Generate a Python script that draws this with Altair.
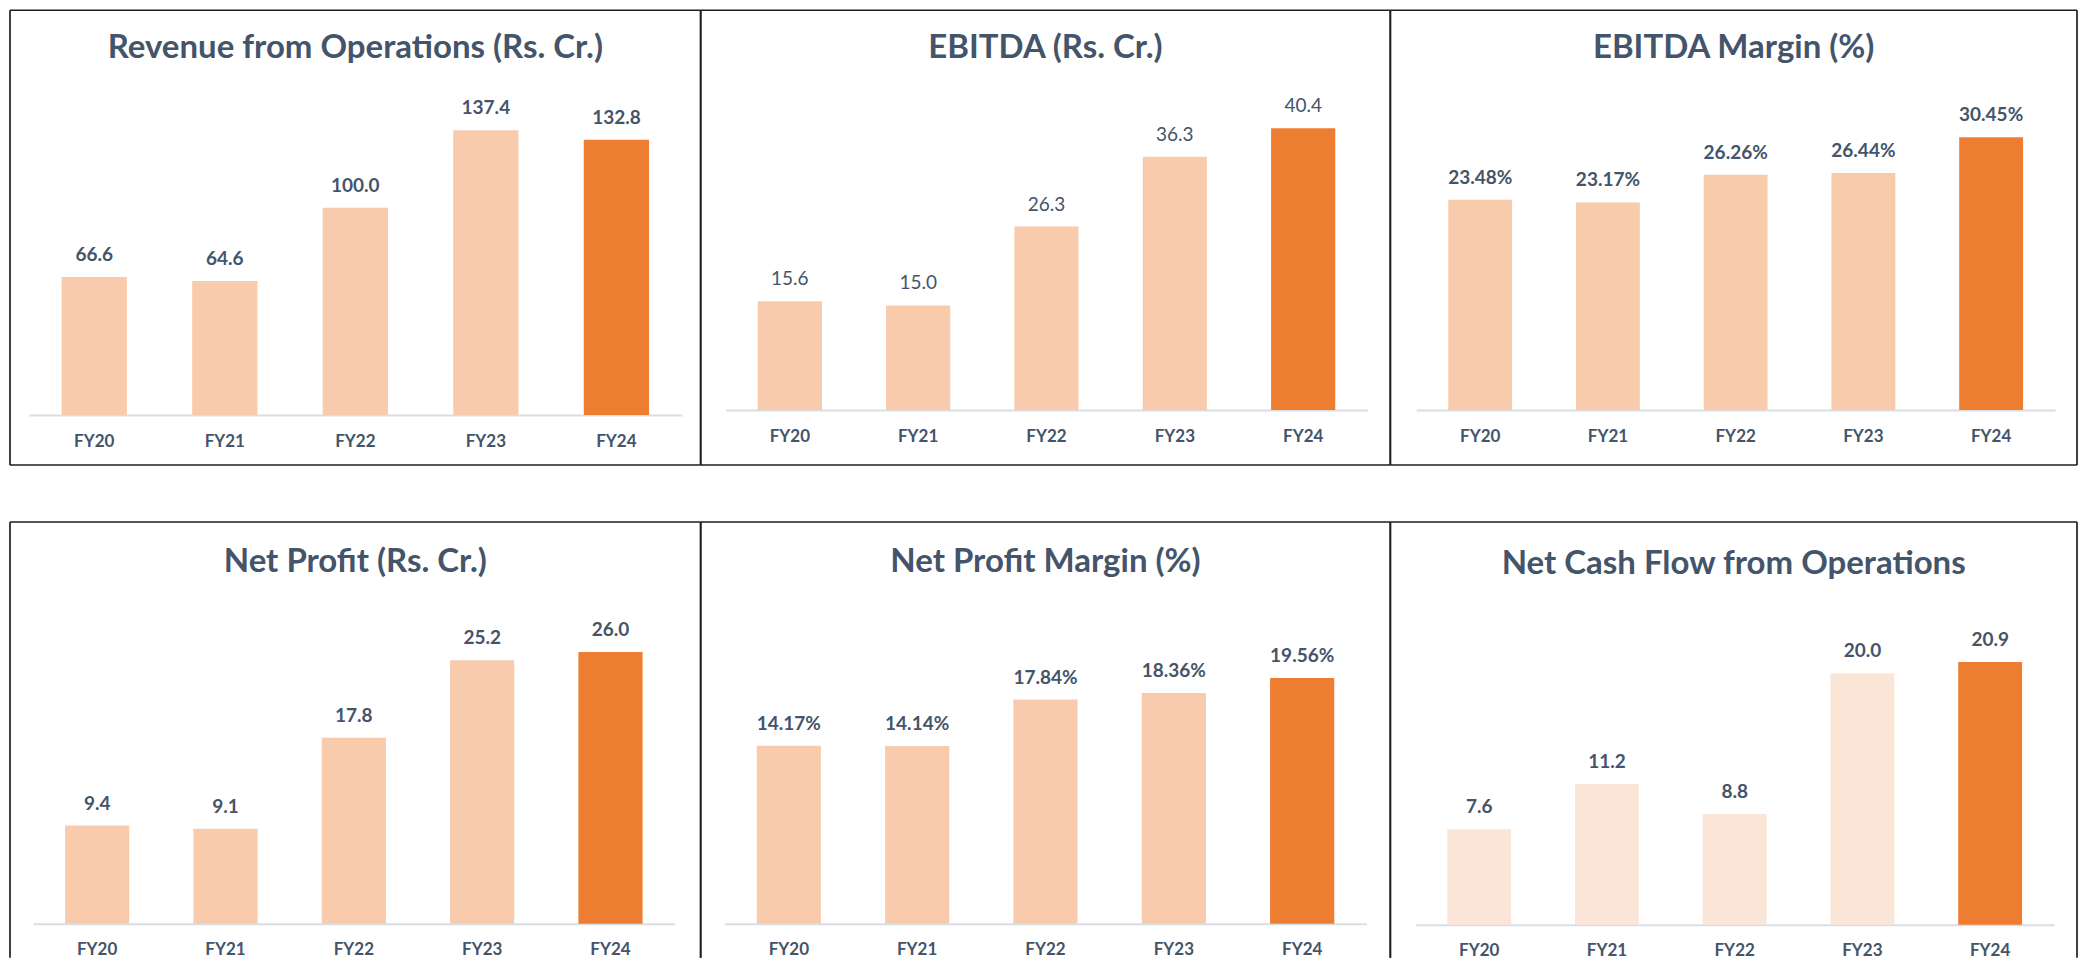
import altair as alt
import pandas as pd

years = ["FY20", "FY21", "FY22", "FY23", "FY24"]
revenue = [66.6, 64.6, 100.0, 137.4, 132.8]
ebitda = [15.6, 15.0, 26.3, 36.3, 40.4]
ebitda_margin = [23.48, 23.17, 26.26, 26.44, 30.45]
net_profit = [9.4, 9.1, 17.8, 25.2, 26.0]
net_profit_margin = [14.17, 14.14, 17.84, 18.36, 19.56]
net_cash_flow = [7.6, 11.2, 8.8, 20.0, 20.9]

titles = [
    "Revenue from Operations (Rs. Cr.)",
    "EBITDA (Rs. Cr.)",
    "EBITDA Margin (%)",
    "Net Profit (Rs. Cr.)",
    "Net Profit Margin (%)",
    "Net Cash Flow from Operations",
]

TEXT = "#44546A"
LIGHT = "#F8CBAD"
LIGHTER = "#FBE5D6"
DARK = "#ED7D31"
FONT = "Lato"
BORDER = "#1E1E1E"
AXIS_LINE = "#D9DEE4"


def panel(title, values, pct, bold_labels, light, W, H, base, maxtop, title_y, xr, full_box):
    df = pd.DataFrame({"year": years, "v": values})
    vmax = max(values)
    x = alt.X(
        "year:N",
        sort=years,
        scale=alt.Scale(range=xr, paddingInner=0.5, paddingOuter=0.25),
        axis=alt.Axis(
            title=None, orient="bottom", offset=-(H - base),
            domainColor=AXIS_LINE, domainWidth=2, ticks=False, tickSize=0,
            labelAngle=0, labelFont=FONT, labelFontSize=17, labelFontWeight="bold",
            labelColor=TEXT, labelPadding=26, labelBaseline="middle", grid=False,
        ),
    )
    y = alt.Y(
        "v:Q",
        scale=alt.Scale(domain=[0, vmax], range=[base, maxtop], nice=False, zero=True),
        axis=None,
    )
    enc = alt.Chart(df).encode(x=x, y=y)
    bars = enc.mark_bar().encode(
        color=alt.condition(alt.datum.year == "FY24", alt.value(DARK), alt.value(light))
    )
    expr = "format(datum.v, '.2f') + '%'" if pct else "format(datum.v, '.1f')"
    labels = enc.transform_calculate(lab=expr).mark_text(
        font=FONT, fontSize=19, fontWeight="bold" if bold_labels else "normal",
        color=TEXT, dy=-22, baseline="middle",
    ).encode(text="lab:N")
    ttl = alt.Chart(pd.DataFrame({"t": [title]})).mark_text(
        font=FONT, fontSize=33, fontWeight="bold", color=TEXT,
        baseline="middle", align="center",
    ).encode(text="t:N", x=alt.value(W / 2), y=alt.value(title_y))

    dummy = pd.DataFrame({"d": [0]})
    ybot = H if full_box else H + 10
    rule = lambda: alt.Chart(dummy).mark_rule(color=BORDER, strokeWidth=1.7)
    borders = [
        rule().encode(x=alt.value(0), y=alt.value(0), y2=alt.value(ybot)),
        rule().encode(x=alt.value(W), y=alt.value(0), y2=alt.value(ybot)),
        rule().encode(x=alt.value(0), x2=alt.value(W), y=alt.value(0)),
    ]
    if full_box:
        borders.append(rule().encode(x=alt.value(0), x2=alt.value(W), y=alt.value(H)))
    return alt.layer(bars, labels, ttl, *borders).properties(width=W, height=H)


H1, H2 = 455, 426
W = [691, 690, 687]

p1 = panel(titles[0], revenue, False, True, LIGHT, W[0], H1, 405, 120, 38, [19, 672], True)
p2 = panel(titles[1], ebitda, False, False, LIGHT, W[1], H1, 400, 118, 38, [25, 667], True)
p3 = panel(titles[2], ebitda_margin, True, True, LIGHT, W[2], H1, 400, 127, 38, [26, 665], True)
p4 = panel(titles[3], net_profit, False, True, LIGHT, W[0], H2, 402, 130, 40, [23, 665], False)
p5 = panel(titles[4], net_profit_margin, True, True, LIGHT, W[1], H2, 402, 156, 40, [24, 666], False)
p6 = panel(titles[5], net_cash_flow, False, True, LIGHTER, W[2], H2, 403, 140, 42, [25, 664], False)

row1 = alt.hconcat(p1, p2, p3, spacing=0, bounds="flush")
row2 = alt.hconcat(p4, p5, p6, spacing=0, bounds="flush")

chart = (
    alt.vconcat(row1, row2, spacing=55)
    .properties(padding={"left": 1, "top": 1, "right": 1, "bottom": 1}, background="white")
    .configure_view(stroke=None)
)

chart.save("out.html", embed_options={"renderer": "svg", "actions": False})
